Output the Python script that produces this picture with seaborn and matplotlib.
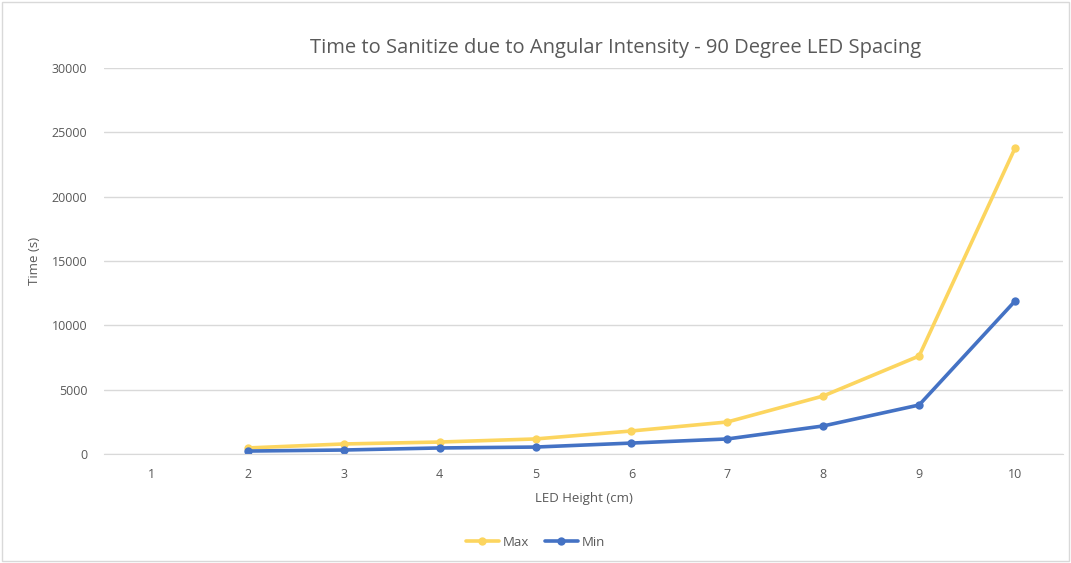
import matplotlib
matplotlib.use("Agg")
import matplotlib.pyplot as plt
import seaborn as sns
import pandas as pd
import numpy as np

heights = [2, 3, 4, 5, 6, 7, 8, 9, 10]
max_vals = [470, 780, 930, 1170, 1790, 2490, 4510, 7620, 23780]
min_vals = [230, 310, 470, 540, 850, 1170, 2180, 3810, 11890]
x_ticks = [1, 2, 3, 4, 5, 6, 7, 8, 9, 10]
y_ticks = [0, 5000, 10000, 15000, 20000, 25000, 30000]

df = pd.DataFrame({
    "LED Height (cm)": heights * 2,
    "Time (s)": max_vals + min_vals,
    "Series": ["Max"] * len(heights) + ["Min"] * len(heights),
})

sns.set_style("white")
plt.rcParams["font.family"] = ["Open Sans", "DejaVu Sans"]

fig = plt.figure(figsize=(10.71, 5.63), dpi=100)
ax = fig.add_axes([0.0971, 0.1936, 0.8954, 0.6854])

sns.lineplot(data=df, x="LED Height (cm)", y="Time (s)", hue="Series",
             palette={"Max": "#FCD55F", "Min": "#4472C4"}, marker="o",
             markersize=6, markeredgewidth=0, linewidth=2.6, ax=ax, legend=True)

ax.set_xlim(0.5, 10.5)
ax.set_ylim(0, 30000)
ax.set_xticks(x_ticks)
ax.set_yticks(y_ticks)
ax.tick_params(axis="both", length=0, labelsize=9, labelcolor="#595959")
ax.tick_params(axis="y", pad=12)
ax.tick_params(axis="x", pad=10)
ax.grid(axis="y", color="#D9D9D9", linewidth=1)
for s in ["top", "right", "left"]:
    ax.spines[s].set_visible(False)
ax.spines["bottom"].set_color("#D9D9D9")
ax.set_xlabel("LED Height (cm)", fontsize=9.5, color="#595959", labelpad=8)
ax.set_ylabel("Time (s)", fontsize=9.5, color="#595959", labelpad=8)
ax.set_axisbelow(True)

fig.text(0.575, 0.914, "Time to Sanitize due to Angular Intensity - 90 Degree LED Spacing",
         ha="center", va="center", fontsize=14.5, color="#595959")

leg = ax.legend(loc="center", bbox_to_anchor=(0.5, 0.037), bbox_transform=fig.transFigure,
                ncol=2, frameon=False, fontsize=9.5, handlelength=2.5, columnspacing=1.2,
                handletextpad=0.3)
for t in leg.get_texts():
    t.set_color("#595959")

border = plt.Rectangle((0.002, 0.003), 0.996, 0.994, transform=fig.transFigure,
                       fill=False, edgecolor="#D9D9D9", linewidth=1)
fig.add_artist(border)

fig.savefig("out.png", dpi=100)
